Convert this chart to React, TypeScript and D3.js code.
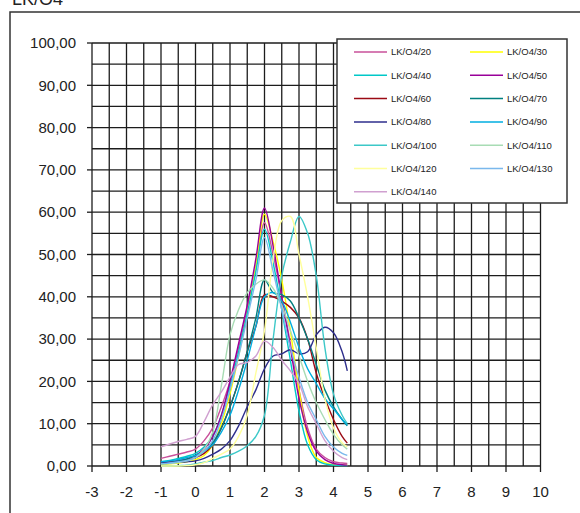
import React from "react";
import * as d3 from "d3";

// phi classes shared by every sample
const xValues = [-1, -0.75, -0.5, -0.25, 0, 0.25, 0.5, 0.75, 1, 1.25, 1.5, 1.75, 2, 2.25, 2.5, 2.75, 3, 3.25, 3.5, 3.75, 4, 4.25, 4.4];

const seriesNames = ["LK/O4/20", "LK/O4/30", "LK/O4/40", "LK/O4/50", "LK/O4/60", "LK/O4/70", "LK/O4/80", "LK/O4/90", "LK/O4/100", "LK/O4/110", "LK/O4/120", "LK/O4/130", "LK/O4/140"];

const seriesColors = ["#c8509a", "#ffff00", "#00c8c8", "#990099", "#9b0a14", "#008080", "#2e2e8c", "#00aee0", "#3cc8c8", "#a8dcb4", "#ffff9c", "#7ab8ec", "#d0a0d0"];

const lk20 = [1.8, 2.3, 2.8, 3.3, 4, 6, 9, 14, 20, 28, 37, 47, 57.5, 50, 40, 29, 18, 9, 4, 2, 1, 0.7, 0.6];
const lk30 = [0.3, 0.5, 0.7, 1, 1.5, 2.5, 5, 10, 17, 26, 36, 47, 59.5, 53, 44, 32, 18, 7, 2, 0.8, 0.3, 0.2, 0.2];
const lk40 = [1, 1.3, 1.8, 2.3, 3, 4.5, 7, 12, 19, 27, 36, 46, 56, 48, 37, 25, 13, 5, 1.5, 0.5, 0.2, 0.1, 0.1];
const lk50 = [0.8, 1, 1.3, 1.7, 2.5, 4, 7, 12, 20, 29, 38, 49, 61, 52, 40, 28, 16, 8, 3.5, 1.5, 0.6, 0.3, 0.2];
const lk60 = [0.8, 0.9, 1, 1.4, 2, 3, 5, 9, 14, 20, 27, 33, 40.5, 40, 39, 37.5, 35, 30, 22, 16, 11, 7, 5.4];
const lk70 = [0.5, 0.8, 1.2, 1.6, 2.5, 3.5, 5.5, 9, 14, 20, 27, 35, 44, 41, 40.5, 39, 35, 30, 24, 18, 14, 11, 9.5];
const lk80 = [0.7, 0.8, 0.9, 1, 1.2, 1.8, 2.8, 4, 6, 9.5, 14, 18, 23, 26, 26.5, 27.5, 26.5, 27, 31, 32.8, 31.5, 27, 22.5];
const lk90 = [1, 1.2, 1.5, 2, 2.5, 3.5, 5, 8, 12, 18, 25, 33, 40, 41, 39, 34, 28, 23, 19.5, 16, 13.5, 11, 9.7];
const lk100 = [0, 0, 0.1, 0.2, 0.5, 0.9, 1.3, 2, 2.6, 3.5, 4.8, 7, 12, 30, 45, 53, 59, 55, 45, 28, 17, 12, 10];
const lk110 = [0.5, 0.6, 0.8, 1.2, 2, 4, 8, 19, 31, 37, 41, 43, 44, 42, 38, 32, 26, 20, 15, 11, 7.5, 5, 4];
const lk120 = [0, 0, 0, 0.1, 0.3, 0.8, 1.8, 2.8, 4, 7, 12, 22, 32, 49, 58, 59, 50, 40, 28, 16, 9, 5.5, 4.5];
const lk130 = [0.5, 0.7, 1, 1.3, 2, 3.5, 6, 11, 18, 26, 35, 44, 54, 46, 37, 28, 21, 15, 11, 7, 4.5, 3, 2.5];
const lk140 = [4.5, 5.2, 5.8, 6.3, 7, 10.5, 14.5, 17.5, 21, 24, 24.5, 26, 29.5, 28, 25, 22.5, 19.5, 14, 10, 6, 3.5, 2, 1.5];

const seriesValues = [lk20, lk30, lk40, lk50, lk60, lk70, lk80, lk90, lk100, lk110, lk120, lk130, lk140];

const xTicks = [-3, -2, -1, 0, 1, 2, 3, 4, 5, 6, 7, 8, 9, 10];
const yTicks = [0, 10, 20, 30, 40, 50, 60, 70, 80, 90, 100];

const W = 580;
const H = 513;
const font = "'Liberation Sans', Arial, sans-serif";

export default function App() {
  const x = d3.scaleLinear().domain([-3, 10]).range([92, 540.5]);
  const y = d3.scaleLinear().domain([0, 100]).range([466, 43]);

  const line = d3
    .line<number>()
    .x((_, i) => x(xValues[i]))
    .y((d) => y(d))
    .curve(d3.curveCatmullRom.alpha(0.5));

  const vGrid = d3.range(-3, 10.01, 0.5);
  const hGrid = d3.range(0, 100.01, 5);

  // legend layout: two columns
  const legX = [354, 470];
  const legY = (row: number) => 52 + row * 23.3;

  return (
    <svg
      width={W}
      height={H}
      style={{ position: "absolute", left: 0, top: 0, display: "block", background: "#fff" }}
    >
      <text x={12} y={5} fontFamily={font} fontSize={18} fill="#222">
        LK/O4
      </text>
      <rect x={10} y={12} width={W} height={H} fill="none" stroke="#333" strokeWidth={1.5} />

      {/* grid */}
      <g stroke="#1c1c1c" strokeWidth={1.3}>
        {vGrid.map((v) => (
          <line key={"v" + v} x1={x(v)} x2={x(v)} y1={y(100)} y2={y(0)} />
        ))}
        {hGrid.map((v) => (
          <line key={"h" + v} x1={x(-3)} x2={x(10)} y1={y(v)} y2={y(v)} />
        ))}
        {xTicks.map((t) => (
          <line key={"xt" + t} x1={x(t)} x2={x(t)} y1={y(0)} y2={y(0) + 6} />
        ))}
        {yTicks.map((t) => (
          <line key={"yt" + t} x1={x(-3) - 5} x2={x(-3)} y1={y(t)} y2={y(t)} />
        ))}
      </g>

      {/* axis labels */}
      <g fontFamily={font} fontSize={15} fill="#222">
        {yTicks.map((t) => (
          <text key={"yl" + t} x={76} y={y(t)} dy="0.35em" textAnchor="end">
            {t.toFixed(2).replace(".", ",")}
          </text>
        ))}
        {xTicks.map((t) => (
          <text key={"xl" + t} x={x(t)} y={497} textAnchor="middle">
            {t}
          </text>
        ))}
      </g>

      {/* series */}
      <g fill="none" strokeWidth={1.4}>
        {seriesValues.map((vals, i) => (
          <path key={seriesNames[i]} d={line(vals) || ""} stroke={seriesColors[i]} />
        ))}
      </g>

      {/* legend */}
      <rect x={337} y={39} width={230} height={164} fill="#fff" stroke="#333" strokeWidth={1.5} />
      <g fontFamily={font} fontSize={9.5} fill="#222">
        {seriesNames.map((name, i) => {
          const col = i % 2;
          const row = Math.floor(i / 2);
          const lx = legX[col];
          const ly = legY(row);
          return (
            <g key={"leg" + name}>
              <line x1={lx} x2={lx + 33} y1={ly} y2={ly} stroke={seriesColors[i]} strokeWidth={1.5} />
              <text x={lx + 37} y={ly} dy="0.35em">
                {name}
              </text>
            </g>
          );
        })}
      </g>
    </svg>
  );
}
